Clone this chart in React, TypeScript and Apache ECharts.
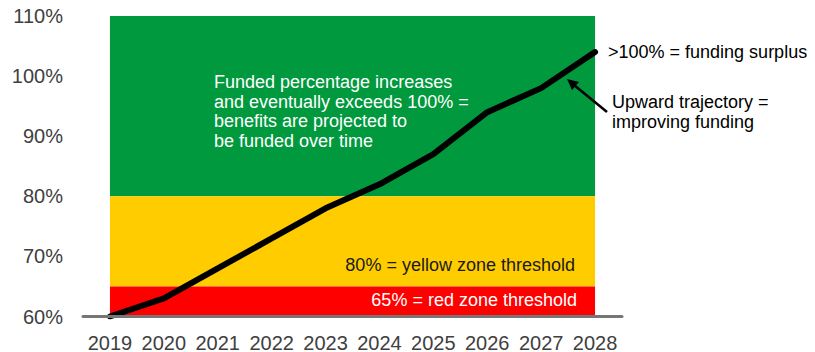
import React, { useEffect, useRef } from "react";
import * as echarts from "echarts";

const years = ["2019", "2020", "2021", "2022", "2023", "2024", "2025", "2026", "2027", "2028"];
const fundedPct = [60, 63, 68, 73, 78, 82, 87, 94, 98, 104];
const yTicks = { min: 60, max: 110, interval: 10 };
const zones = [
  { from: 80, to: 110, color: "#00993D" },
  { from: 65, to: 80, color: "#FFCC00" },
  { from: 60, to: 65, color: "#FF0000" },
];

const FONT = "'Liberation Sans', Arial, sans-serif";

export default function App() {
  const ref = useRef<HTMLDivElement>(null);
  useEffect(() => {
    if (!ref.current) return;
    const chart = echarts.init(ref.current, undefined, { renderer: "svg" });
    chart.setOption({
      animation: false,
      grid: {
        left: 83,
        right: 193,
        top: 16,
        bottom: 35.5,
        containLabel: false,
        outerBoundsMode: "none",
      },
      xAxis: {
        type: "category",
        data: years,
        boundaryGap: true,
        axisLine: { show: true, lineStyle: { color: "#767676", width: 3 } },
        axisTick: { show: false },
        axisLabel: {
          color: "#404040",
          fontSize: 20,
          fontFamily: FONT,
          margin: 16,
          interval: 0,
        },
        splitLine: { show: false },
        z: 5,
      },
      yAxis: {
        type: "value",
        min: yTicks.min,
        max: yTicks.max,
        interval: yTicks.interval,
        axisLine: { show: false },
        axisTick: { show: false },
        splitLine: { show: false },
        axisLabel: {
          color: "#404040",
          fontSize: 20,
          fontFamily: FONT,
          margin: 20,
          formatter: (v: number) => `${v}%`,
        },
      },
      series: [
        {
          type: "line",
          data: fundedPct,
          symbol: "none",
          lineStyle: { color: "#000", width: 6, cap: "round", join: "round" },
          z: 3,
          markArea: {
            silent: true,
            data: zones.map((zn) => [
              { xAxis: years[0], yAxis: zn.from, itemStyle: { color: zn.color, opacity: 1 } },
              { xAxis: years[years.length - 1], yAxis: zn.to },
            ]),
          },
        },
      ],
      graphic: [
        {
          type: "text",
          left: 214,
          top: 72,
          style: {
            text: "Funded percentage increases\nand eventually exceeds 100% =\nbenefits are projected to\nbe funded over time",
            fill: "#fff",
            font: `18px ${FONT}`,
            lineHeight: 19.7,
          },
          z: 10,
        },
        {
          type: "text",
          x: 575,
          y: 264.5,
          style: {
            text: "80% = yellow zone threshold",
            fill: "#1a1a1a",
            font: `18px ${FONT}`,
            align: "right",
            verticalAlign: "middle",
          },
          z: 10,
        },
        {
          type: "text",
          x: 577,
          y: 300,
          style: {
            text: "65% = red zone threshold",
            fill: "#fff",
            font: `18px ${FONT}`,
            align: "right",
            verticalAlign: "middle",
          },
          z: 10,
        },
        {
          type: "text",
          x: 608,
          y: 52,
          style: {
            text: ">100% = funding surplus",
            fill: "#000",
            font: `18px ${FONT}`,
            align: "left",
            verticalAlign: "middle",
          },
          z: 10,
        },
        {
          type: "text",
          x: 612,
          y: 92,
          style: {
            text: "Upward trajectory =\nimproving funding",
            fill: "#000",
            font: `18px ${FONT}`,
            align: "left",
            verticalAlign: "top",
            lineHeight: 20,
          },
          z: 10,
        },
        {
          type: "line",
          shape: { x1: 607, y1: 112, x2: 574, y2: 85 },
          style: { stroke: "#000", lineWidth: 2.5 },
          z: 10,
        },
        {
          type: "polygon",
          shape: { points: [[567, 79], [579, 82], [572, 90]] },
          style: { fill: "#000" },
          z: 10,
        },
      ],
    });
    return () => chart.dispose();
  }, []);
  return (
    <div
      ref={ref}
      style={{ position: "fixed", left: 0, top: 0, width: 815, height: 352, background: "#fff" }}
    />
  );
}
